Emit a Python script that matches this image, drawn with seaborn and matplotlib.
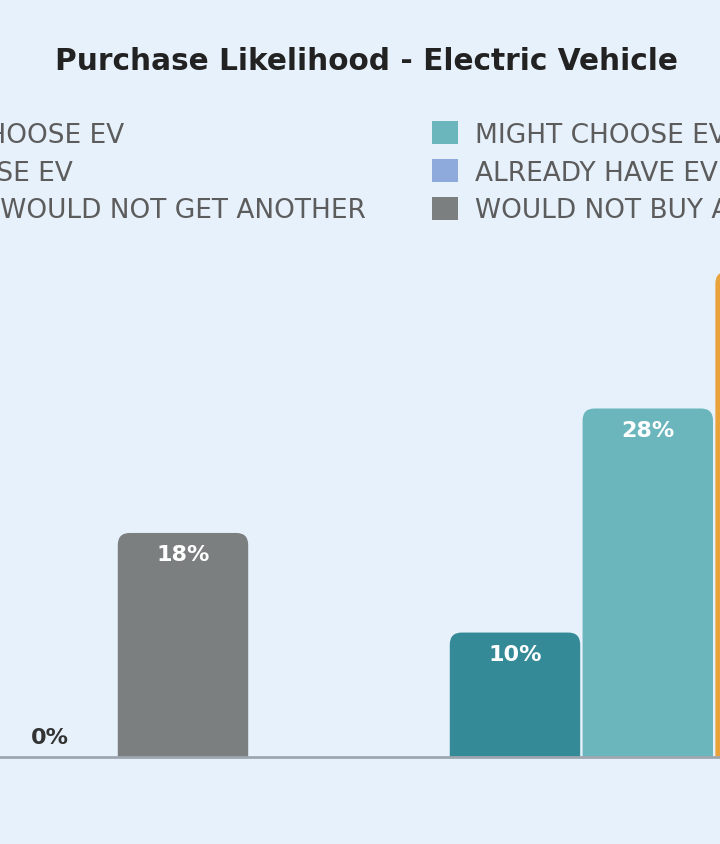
import numpy as np
import pandas as pd
import matplotlib
matplotlib.use("Agg")
import matplotlib.pyplot as plt
from matplotlib.patches import FancyBboxPatch, Patch
import seaborn as sns

# --- Data (only the part of the chart that is in view) ---
answers = [
    "WILL DEFINITELY CHOOSE EV",
    "MIGHT CHOOSE EV",
    "UNLIKELY TO CHOOSE EV",
    "ALREADY HAVE EV; WOULD GET ANOTHER",
    "ALREADY HAVE EV; WOULD NOT GET ANOTHER",
    "WOULD NOT BUY ANY VEHICLE",
]
answer_colors = ["#348b97", "#6bb6bd", "#eaa23a", "#8eaadc", "#3d5a80", "#7b7f7f"]
groups = ["Segment 1", "Segment 2"]

bar_group = ["Segment 1", "Segment 1", "Segment 2", "Segment 2", "Segment 2"]
bar_answer = [answers[4], answers[5], answers[0], answers[1], answers[2]]
bar_pct = [0, 18, 10, 28, 39]

bg = "#e7f1fb"

df = pd.DataFrame({"group": bar_group, "answer": bar_answer, "pct": bar_pct})
palette = dict(zip(answers, answer_colors))

sns.set_style("white")
plt.rcParams["font.family"] = ["DejaVu Sans"]

fig = plt.figure(figsize=(7.2, 8.45), dpi=100, facecolor=bg)
ax = fig.add_axes([0, 87 / 845, 1, 758 / 845])
ax.set_facecolor(bg)

sns.barplot(data=df, x="group", y="pct", hue="answer", order=groups,
            hue_order=answers, palette=palette, saturation=1, width=0.8,
            ax=ax, legend=False)

# visible window of the wider chart
ax.set_xlim(0.1496, 0.8725)
ax.set_ylim(0, 60.9)

# rounded top corners
p0 = ax.transData.transform((0, 0))
p1 = ax.transData.transform((1, 1))
xpx = p1[0] - p0[0]
ypx = p1[1] - p0[1]
r = 12 / xpx
gap = 1.2 / xpx
for bar in list(ax.patches):
    x, w, h = bar.get_x(), bar.get_width(), bar.get_height()
    fc = bar.get_facecolor()
    bar.set_visible(False)
    cx = x + w / 2
    if h > 0:
        ax.add_patch(FancyBboxPatch((x + gap, -3), w - 2 * gap, h + 3,
                                    boxstyle=f"round,pad=0,rounding_size={r}",
                                    mutation_aspect=xpx / ypx,
                                    fc=fc, ec="none"))
        ax.annotate(f"{h:.0f}%", (cx, h), xytext=(0, -8), textcoords="offset points",
                    ha="center", va="top", color="white", fontsize=16, fontweight="bold")
    else:
        ax.annotate(f"{h:.0f}%", (cx, h), xytext=(0, 7), textcoords="offset points",
                    ha="center", va="bottom", color="#333333", fontsize=16, fontweight="bold")

ax.set_xlabel("")
ax.set_ylabel("")
ax.set_xticks([])
ax.set_yticks([])
for s in ["top", "left", "right"]:
    ax.spines[s].set_visible(False)
ax.spines["bottom"].set_color("#9ea7b0")
ax.spines["bottom"].set_linewidth(2)

fig.text(366 / 720, 1 - 61 / 845, "Purchase Likelihood - Electric Vehicle",
         ha="center", va="center", fontsize=21.3, fontweight="bold", color="#222222")

# legend, two columns (row-major order of the answers)
handles = [Patch(fc=palette[a], ec="none") for a in answers]
leg_kw = dict(frameon=False, handlelength=0.985, handleheight=0.985,
              handletextpad=0.64, labelspacing=0.42, borderpad=0, borderaxespad=0,
              labelcolor="#5c5c5c", prop={"family": "DejaVu Sans", "size": 19})
left = fig.legend(handles[0::2], answers[0::2], loc="upper right",
                  bbox_to_anchor=(366 / 720, 1 - 122 / 845), **leg_kw)
right = fig.legend(handles[1::2], answers[1::2], loc="upper left",
                   bbox_to_anchor=(432 / 720, 1 - 122 / 845), **leg_kw)

fig.savefig("out.png", dpi=100, facecolor=bg)
